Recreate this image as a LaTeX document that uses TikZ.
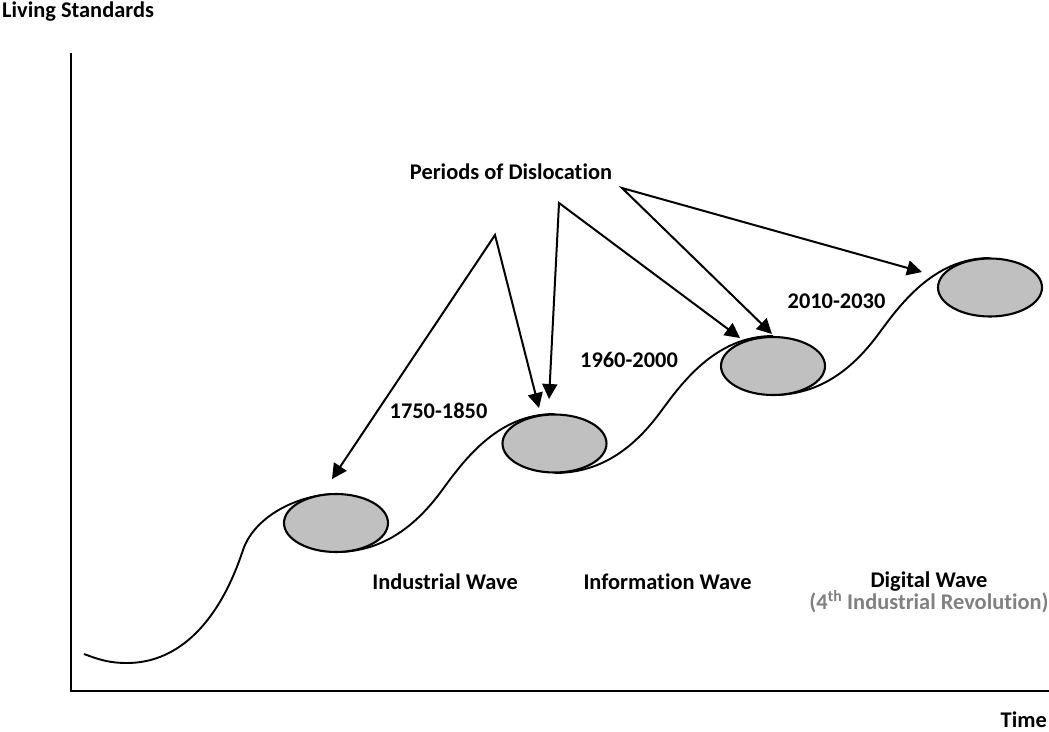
\documentclass[tikz,border=0pt]{standalone}
\usepackage{fontspec}
\setmainfont{Carlito}[Ligatures=NoCommon]
\usetikzlibrary{shapes.geometric,arrows.meta}
\definecolor{ellfill}{RGB}{192,192,192}
\definecolor{graytext}{RGB}{128,128,128}
\tikzset{
  lbl/.style={font=\fontsize{22.4}{26}\selectfont\bfseries, inner sep=0pt, anchor=base},
  axisline/.style={line width=2.6pt},
  wave/.style={line width=1.9pt},
  dip/.style={ellipse, draw, line width=2.1pt, fill=ellfill, minimum width=104pt, minimum height=58pt, inner sep=0pt},
  pointer/.style={line width=2pt, {Triangle[length=15pt,width=15pt]}-{Triangle[length=15pt,width=15pt]}}
}
\begin{document}
\begin{tikzpicture}[x=1pt,y=-1pt]
\useasboundingbox (0,0) rectangle (1049,731);
% axes
\coordinate (ytop) at (71,53);
\coordinate (orig) at (71,691);
\coordinate (xend) at (1049,691);
\draw[axisline] (ytop) -- (orig) -- (xend);
% wave curve
\draw[wave] (84,654) .. controls (100,660) and (110,663) .. (127,663)
  .. controls (180,663) and (220,620) .. (243,550)
  .. controls (255,515) and (300,494) .. (337,494);
\draw[wave] (336,552) .. controls (386,552) and (418,522) .. (440,493)
  .. controls (462,463) and (496,414) .. (554,414);
\draw[wave] (555,473) .. controls (605,473) and (637,443) .. (659,414)
  .. controls (681,384) and (715,336) .. (773,336);
\draw[wave] (773,395) .. controls (823,395) and (855,365) .. (877,336)
  .. controls (899,306) and (933,258) .. (990,258);
% ellipses
\node[dip] (e1) at (336,523) {};
\node[dip] (e2) at (554.5,443.5) {};
\node[dip] (e3) at (773,366) {};
\node[dip] (e4) at (990,287.5) {};
% pointers
\coordinate (p1) at (495,235);
\coordinate (p2) at (559,203);
\coordinate (p3) at (622,188);
\coordinate (t1) at (332,479);
\coordinate (t2) at (539,408);
\coordinate (t3) at (549,399);
\coordinate (t4) at (740,338);
\coordinate (t5) at (772,334);
\coordinate (t6) at (922,272);
\draw[pointer] (t1) -- (p1) -- (t2);
\draw[pointer] (t3) -- (p2) -- (t4);
\draw[pointer] (t5) -- (p3) -- (t6);
% labels
\node[lbl, anchor=base west] (ls) at (2,17.5) {Living Standards};
\node[lbl] (pd) at (511,179) {Periods of Dislocation};
\node[lbl] (d1) at (438.5,418) {1750-1850};
\node[lbl] (d2) at (629,367) {1960-2000};
\node[lbl] (d3) at (836.5,308) {2010-2030};
\node[lbl] (w1) at (445,589) {Industrial Wave};
\node[lbl] (w2) at (667.5,589) {Information Wave};
\node[lbl] (w3) at (929,587) {Digital Wave};
\node[lbl, text=graytext] (w3b) at (929,609) {(4\textsuperscript{th} Industrial Revolution)};
\node[lbl, anchor=base east] (tm) at (1047,727) {Time};
\end{tikzpicture}
\end{document}
